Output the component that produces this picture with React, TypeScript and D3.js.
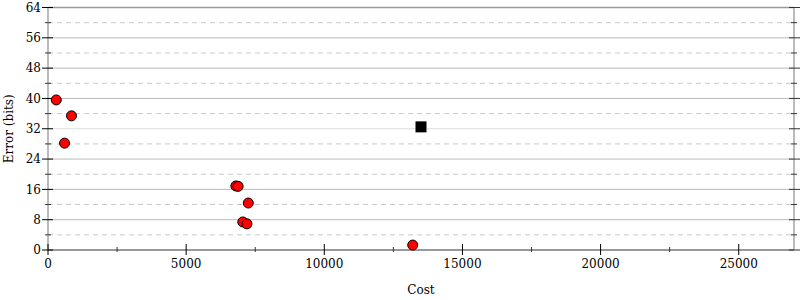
import React from "react";
import * as d3 from "d3";

const costs = [300, 850, 600, 6800, 6880, 7250, 7050, 7200, 13200];
const errors = [39.6, 35.4, 28.2, 16.9, 16.8, 12.4, 7.4, 6.9, 1.3];
const bestCost = [13500];
const bestError = [32.5];
const xTicks = [0, 5000, 10000, 15000, 20000, 25000];
const xMinorTicks = [2500, 7500, 12500, 17500, 22500];
const yTicks = [0, 8, 16, 24, 32, 40, 48, 56, 64];
const yMinorTicks = [4, 12, 20, 28, 36, 44, 52, 60];

export default function App() {
  const W = 800, H = 300;
  const left = 48, right = 794, top = 7.5, bottom = 250;
  const x = d3.scaleLinear().domain([0, 27000]).range([left, right]);
  const y = d3.scaleLinear().domain([0, 64]).range([bottom, top]);
  const font = "DejaVu Serif";
  return (
    <svg width={W} height={H} style={{ position: "absolute", left: 0, top: 0 }} fontFamily={font}>
      <rect width={W} height={H} fill="white" />
      {yMinorTicks.map((t) => (
        <line key={"gm" + t} x1={left} x2={right} y1={y(t)} y2={y(t)} stroke="#c8c8c8" strokeDasharray="5,4" />
      ))}
      {yTicks.slice(1, -1).map((t) => (
        <line key={"g" + t} x1={left} x2={right} y1={y(t)} y2={y(t)} stroke={t === 32 ? "#dddddd" : "#bbbbbb"} strokeWidth={1} />
      ))}
      <line x1={left} x2={right} y1={y(64)} y2={y(64)} stroke="#999" strokeWidth={1.5} />
      <line x1={left} x2={left} y1={top} y2={bottom} stroke="#bbb" strokeWidth={2} />
      <line x1={right} x2={right} y1={top} y2={bottom} stroke="#bbb" strokeWidth={2} />
      <line x1={left} x2={right} y1={bottom} y2={bottom} stroke="#999" strokeWidth={2} />
      {yTicks.map((t) => (
        <g key={"yt" + t}>
          <line x1={left - 6} x2={left + 5} y1={y(t)} y2={y(t)} stroke="#000" />
          <line x1={right - 5} x2={right + 6} y1={y(t)} y2={y(t)} stroke="#333" />
          <text x={left - 7} y={y(t)} dy="0.35em" textAnchor="end" fontSize={12}>{t}</text>
        </g>
      ))}
      {yMinorTicks.map((t) => (
        <g key={"ymt" + t}>
          <line x1={left - 3} x2={left + 3} y1={y(t)} y2={y(t)} stroke="#333" />
          <line x1={right - 3} x2={right + 3} y1={y(t)} y2={y(t)} stroke="#333" />
        </g>
      ))}
      {xTicks.map((t) => (
        <g key={"xt" + t}>
          <line x1={x(t)} x2={x(t)} y1={bottom - 6} y2={bottom + 5} stroke="#000" />
          <text x={x(t)} y={bottom + 18} textAnchor="middle" fontSize={12}>{t}</text>
        </g>
      ))}
      {xMinorTicks.map((t) => (
        <line key={"xm" + t} x1={x(t)} x2={x(t)} y1={bottom - 3} y2={bottom + 2} stroke="#333" />
      ))}
      {costs.map((c, i) => (
        <circle key={"p" + i} cx={x(c)} cy={y(errors[i])} r={5} fill="#ff0000" stroke="#000" strokeWidth={1} />
      ))}
      {bestCost.map((c, i) => (
        <rect key={"b" + i} x={x(c) - 5.5} y={y(bestError[i]) - 5.5} width={11} height={11} fill="#000" />
      ))}
      <text x={421} y={294} textAnchor="middle" fontSize={12}>Cost</text>
      <text transform={`translate(13,${(top + bottom) / 2}) rotate(-90)`} textAnchor="middle" fontSize={12}>Error (bits)</text>
    </svg>
  );
}
